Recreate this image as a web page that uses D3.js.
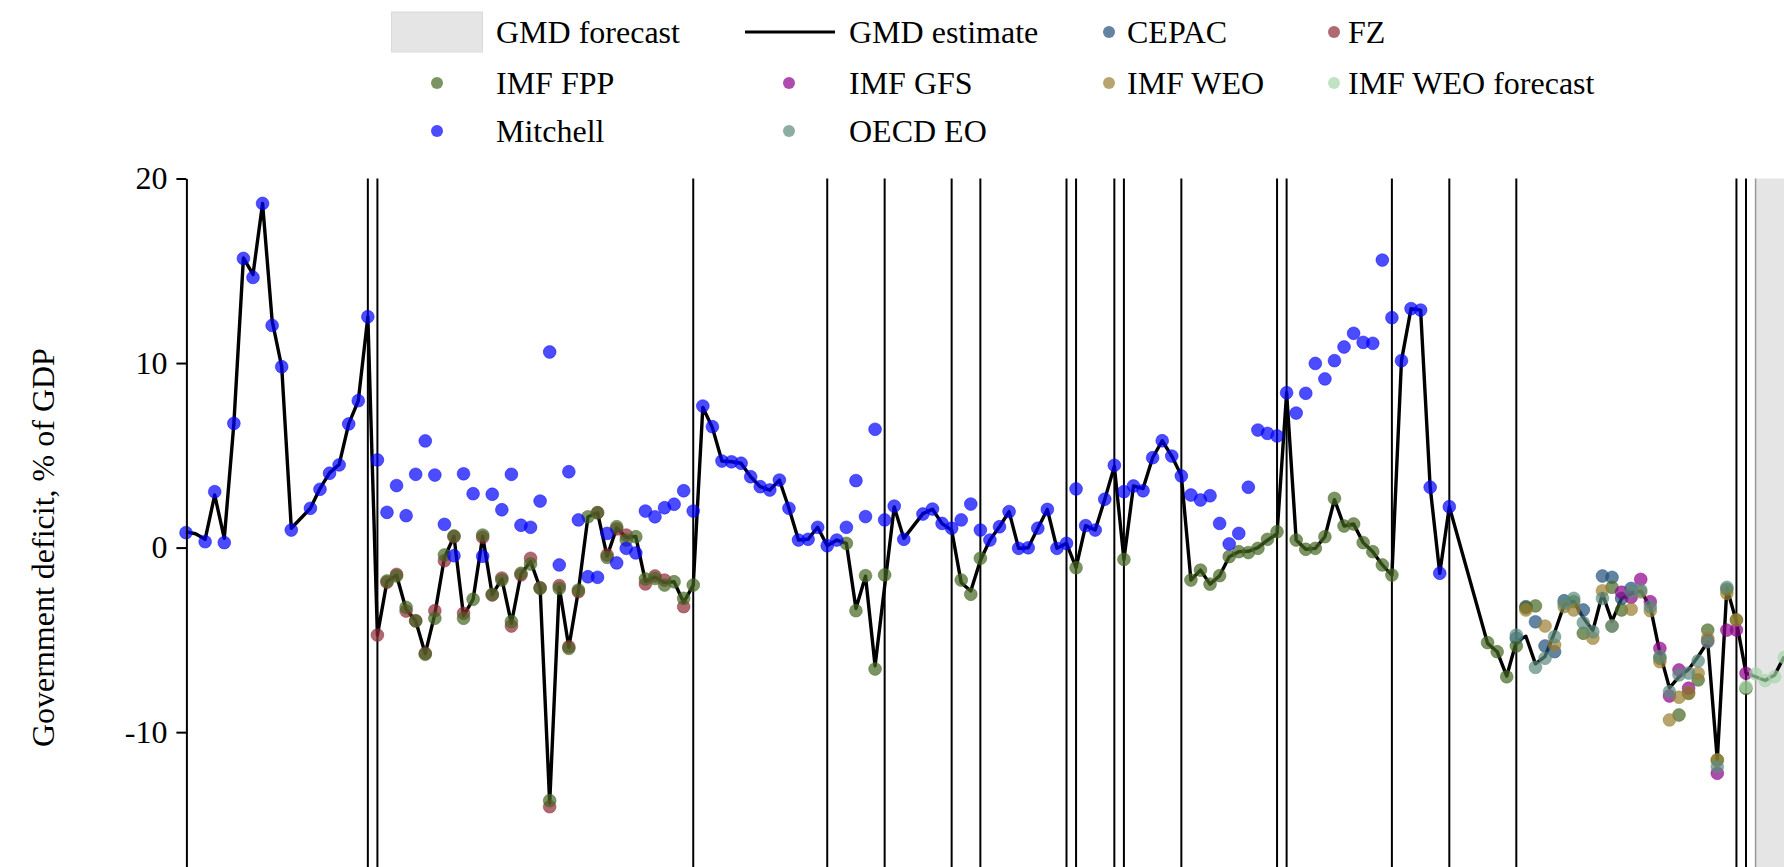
<!DOCTYPE html>
<html><head><meta charset="utf-8">
<script src="https://cdn.jsdelivr.net/npm/d3@7"></script>
<style>
html,body{margin:0;padding:0;background:#fff;overflow:hidden;}
svg{display:block;font-family:"Liberation Serif","Times New Roman",serif;}
</style></head><body>
<svg id="chart" width="1784" height="867"></svg>
<script>
// ---------- DATA ----------
const yTicks = [20, 10, 0, -10];
const yAxisTitle = "Government deficit, % of GDP";
const forecastStartYear = 2024;
const crisisYears = [1879,1880,1913,1927,1933,1940,1943,1952,1953,1957,1958,1964,1974,1975,1986,1992,1999,2022,2023];

const gmdEstimate = [
[1860,0.85],[1861,0.75],[1862,0.45],[1863,2.85],[1864,0.5],[1865,6.7],[1866,15.7],[1867,14.8],[1868,18.65],[1869,12.3],[1870,9.8],[1871,1.05],[1873,2.13],[1874,3.2],[1875,4.05],[1876,4.5],[1877,6.7],[1878,7.95],[1879,12.5],[1880,-4.74],
[1881,-1.83],[1882,-1.5],[1883,-3.35],[1884,-3.97],[1885,-5.75],[1886,-3.6],[1887,-0.55],[1888,0.61],[1889,-3.7],[1890,-2.8],[1891,0.62],[1892,-2.55],[1893,-1.7],[1894,-4.1],[1895,-1.43],[1896,-0.75],[1897,-2.19],[1898,-13.85],[1899,-2.13],[1900,-5.4],[1901,-2.33],[1902,1.67],[1903,1.89],[1904,-0.47],[1905,1.07],[1906,0.55],[1907,0.6],[1908,-1.83],[1909,-1.6],[1910,-1.9],[1911,-1.85],[1912,-2.97],[1913,-2.03],
[1914,7.6],[1915,6.5],[1916,4.69],[1917,4.65],[1918,4.57],[1919,3.84],[1920,3.3],[1921,3.12],[1922,3.66],[1923,2.13],[1924,0.41],[1925,0.45],[1926,1.1],[1927,0.1],[1928,0.41],[1929,0.23],[1930,-3.3],[1931,-1.55],[1932,-6.4],[1934,2.2],[1935,0.5],[1937,1.84],[1938,2.08],[1939,1.3],[1940,0.95],[1941,-1.9],[1942,-2.35],[1943,-0.7],[1944,0.41],[1945,1.13],[1946,1.95],[1947,-0.04],[1948,-0.01],[1949,1.05],[1950,2.07],[1951,-0.04],[1952,0.23],[1953,-1.09],[1954,1.19],[1955,0.95],[1956,2.62],
[1957,4.4],[1958,-0.64],[1959,3.34],[1960,3.2],[1961,4.87],[1962,5.79],[1963,4.96],[1964,3.9],[1965,-1.76],[1966,-1.22],[1967,-1.98],[1968,-1.52],[1969,-0.49],[1970,-0.22],[1971,-0.2],[1972,0.0],[1973,0.4],[1974,0.75],[1975,8.39],[1976,0.41],[1977,-0.09],[1978,-0.04],[1979,0.59],[1980,2.6],[1981,1.17],[1982,1.28],[1983,0.27],[1984,-0.22],[1985,-0.94],[1986,-1.49],[1987,10.13],[1988,12.95],[1989,12.87],[1990,3.27],[1991,-1.39],[1992,2.22],
[1996,-5.19],[1997,-5.64],[1998,-6.96],[1999,-5.1],[2000,-4.8],[2001,-6.3],[2002,-5.9],[2003,-4.6],[2004,-3.1],[2005,-2.9],[2006,-3.8],[2007,-4.5],[2008,-2.5],[2009,-4.0],[2010,-2.75],[2011,-2.5],[2012,-2.35],[2013,-3.2],[2014,-5.7],[2015,-7.6],[2016,-7.0],[2017,-6.6],[2018,-5.9],[2019,-5.1],[2020,-11.5],[2021,-2.2],[2022,-4.0],[2023,-6.8],[2024,-7.0],[2025,-7.2],[2026,-6.9],[2027,-5.9]
];

const cepac = [[1999,-4.91],[2000,-3.2],[2001,-4.02],[2002,-5.33],[2003,-5.64],[2004,-2.88],[2006,-3.38],[2008,-1.54],[2009,-1.61],[2010,-2.75],[2011,-2.21]];

const fz = [[1880,-4.74],[1881,-1.88],[1882,-1.45],[1883,-3.44],[1884,-3.98],[1885,-5.73],[1886,-3.42],[1887,-0.71],[1888,0.59],[1889,-3.56],[1891,0.56],[1892,-2.57],[1893,-1.65],[1894,-4.25],[1895,-1.48],[1896,-0.58],[1897,-2.17],[1898,-14.04],[1899,-2.06],[1900,-5.37],[1901,-2.39],[1903,1.89],[1904,-0.4],[1905,1.01],[1906,0.68],[1908,-1.97],[1909,-1.54],[1910,-1.76],[1912,-3.2]];

const imfFpp = [[1881,-1.81],[1882,-1.54],[1883,-3.24],[1884,-3.96],[1885,-5.78],[1886,-3.83],[1887,-0.4],[1888,0.63],[1889,-3.83],[1890,-2.8],[1891,0.68],[1892,-2.53],[1893,-1.76],[1894,-4.01],[1895,-1.39],[1896,-0.89],[1897,-2.21],[1898,-13.71],[1899,-2.21],[1900,-5.46],[1901,-2.3],[1902,1.67],[1903,1.89],[1904,-0.53],[1905,1.13],[1906,0.41],[1907,0.59],[1908,-1.7],[1909,-1.67],[1910,-2.03],[1911,-1.85],[1912,-2.75],[1913,-2.03],
[1929,0.23],[1930,-3.42],[1931,-1.52],[1932,-6.58],[1933,-1.48],[1941,-1.76],[1942,-2.53],[1943,-0.58],[1953,-1.09],[1958,-0.64],
[1965,-1.76],[1966,-1.22],[1967,-1.98],[1968,-1.52],[1969,-0.49],[1970,-0.22],[1971,-0.27],[1972,-0.04],[1973,0.45],[1974,0.86],[1976,0.41],[1977,-0.09],[1978,-0.04],[1979,0.59],[1980,2.67],[1981,1.17],[1982,1.28],[1983,0.27],[1984,-0.22],[1985,-0.94],[1986,-1.49],
[1996,-5.15],[1997,-5.64],[1998,-7.0],[1999,-5.33],[2000,-3.26],[2001,-3.16],[2005,-2.93],[2006,-4.64],[2009,-2.15],[2010,-3.38],[2014,-6.0],[2016,-9.07],[2017,-7.9],[2018,-7.17],[2019,-4.47],[2020,-11.51],[2021,-2.26],[2022,-3.92],[2023,-7.63]];

const imfGfs = [[2010,-2.42],[2011,-2.69],[2012,-1.72],[2013,-2.93],[2014,-5.46],[2015,-8.04],[2016,-6.63],[2017,-7.62],[2019,-5.05],[2020,-12.23],[2021,-4.47],[2022,-4.47],[2023,-6.81]];

const imfWeo = [[2000,-3.38],[2002,-4.25],[2003,-5.28],[2004,-3.2],[2005,-3.38],[2007,-4.91],[2008,-2.34],[2009,-4.25],[2011,-3.34],[2012,-2.4],[2013,-3.42],[2014,-6.18],[2015,-9.34],[2016,-8.11],[2017,-7.85],[2018,-6.81],[2019,-4.91],[2020,-11.51],[2021,-2.48],[2022,-3.92]];

const imfWeoForecast = [[2023,-7.54],[2024,-6.85],[2025,-7.21],[2026,-7.0],[2027,-5.95]];

const mitchell = [
[1860,0.81],[1862,0.32],[1863,3.03],[1864,0.27],[1865,6.73],[1866,15.67],[1867,14.64],[1868,18.65],[1869,12.04],[1870,9.8],[1871,0.95],[1873,2.13],[1874,3.16],[1875,4.03],[1876,4.48],[1877,6.7],[1878,7.96],[1879,12.51],[1880,4.75],
[1881,1.91],[1882,3.36],[1883,1.73],[1884,3.97],[1885,5.78],[1886,3.93],[1887,1.26],[1888,-0.44],[1889,4.0],[1890,2.92],[1891,-0.47],[1892,2.89],[1893,2.05],[1894,3.97],[1895,1.21],[1896,1.1],[1897,2.52],[1898,10.6],[1899,-0.94],[1900,4.11],[1901,1.5],[1902,-1.58],[1903,-1.61],[1904,0.77],[1905,-0.83],[1906,-0.04],[1907,-0.29],[1908,1.98],[1909,1.67],[1910,2.16],[1911,2.35],[1912,3.08],[1913,1.98],
[1914,7.67],[1915,6.55],[1916,4.69],[1917,4.65],[1918,4.57],[1919,3.84],[1920,3.3],[1921,3.12],[1922,3.66],[1923,2.13],[1924,0.41],[1925,0.45],[1926,1.1],[1927,0.1],[1928,0.41],[1929,1.1],[1930,3.63],[1931,1.68],[1932,6.41],[1933,1.5],[1934,2.25],[1935,0.45],[1937,1.82],[1938,2.09],[1939,1.31],[1940,1.05],[1941,1.5],[1942,2.36],[1943,0.95],[1944,0.41],[1945,1.13],[1946,1.95],[1947,-0.04],[1948,-0.01],[1949,1.05],[1950,2.07],[1951,-0.04],[1952,0.23],[1953,3.18],[1954,1.19],[1955,0.95],[1956,2.62],
[1957,4.46],[1958,3.03],[1959,3.34],[1960,3.08],[1961,4.87],[1962,5.79],[1963,4.96],[1964,3.88],[1965,2.85],[1966,2.58],[1967,2.81],[1968,1.31],[1969,0.2],[1970,0.77],[1971,3.27],[1972,6.37],[1973,6.19],[1974,6.05],[1975,8.39],[1976,7.29],[1977,8.36],[1978,9.98],[1979,9.14],[1980,10.13],[1981,10.87],[1982,11.61],[1983,11.12],[1984,11.07],[1985,15.58],[1986,12.46],[1987,10.13],[1988,12.95],[1989,12.87],[1990,3.27],[1991,-1.39],[1992,2.22]];

const oecdEo = [[1999,-4.74],[2001,-6.49],[2002,-6.0],[2003,-4.83],[2004,-3.02],[2005,-2.75],[2006,-4.07],[2007,-4.56],[2008,-2.75],[2009,-4.25],[2011,-2.39],[2012,-2.3],[2013,-3.2],[2014,-5.9],[2015,-7.81],[2016,-6.9],[2017,-6.8],[2018,-6.14],[2019,-5.1],[2020,-11.87],[2021,-2.15]];

// series drawn in legend order
const sourceNames = ["CEPAC","FZ","IMF FPP","IMF GFS","IMF WEO","IMF WEO forecast","Mitchell","OECD EO"];
const sourceData = [cepac, fz, imfFpp, imfGfs, imfWeo, imfWeoForecast, mitchell, oecdEo];
const sourceColors = ["#1f4e79","#8b2a35","#446622","#8b008b","#9a7f30","#a8d5ab","#0000ff","#5b8a7e"];

// ---------- CHART ----------
const svg = d3.select("#chart");
const x = d3.scaleLinear().domain([1860, 2030]).range([186, 1813]);
const y = d3.scaleLinear().domain([-20, 20]).range([916.7, 178.5]);
const FONT = 32;
const R = 6.4;

// forecast shading
svg.append("rect")
  .attr("x", x(forecastStartYear)).attr("y", y(20))
  .attr("width", x(2030) - x(forecastStartYear)).attr("height", y(-20) - y(20))
  .attr("fill", "#e5e5e5");
svg.append("line")
  .attr("x1", x(forecastStartYear)).attr("x2", x(forecastStartYear))
  .attr("y1", y(20)).attr("y2", y(-20))
  .attr("stroke", "#9a9a9a").attr("stroke-width", 1.5);

// crisis lines
svg.append("g").selectAll("line").data(crisisYears).join("line")
  .attr("x1", d => x(d)).attr("x2", d => x(d))
  .attr("y1", y(20)).attr("y2", y(-20))
  .attr("stroke", "#000").attr("stroke-width", 2);

// GMD estimate line
svg.append("path").datum(gmdEstimate)
  .attr("fill", "none").attr("stroke", "#000").attr("stroke-width", 3.4)
  .attr("stroke-linejoin", "round")
  .attr("d", d3.line().x(d => x(d[0])).y(d => y(d[1])));

// source dots
sourceData.forEach((series, i) => {
  svg.append("g").selectAll("circle").data(series).join("circle")
    .attr("cx", d => x(d[0])).attr("cy", d => y(d[1])).attr("r", R)
    .attr("fill", sourceColors[i]).attr("fill-opacity", 0.7)
    .attr("stroke", sourceColors[i]).attr("stroke-opacity", 0.45).attr("stroke-width", 1);
});

// y axis
const yAxis = d3.axisLeft(y).tickValues(yTicks).tickSize(10).tickSizeOuter(0)
  .tickPadding(9).tickFormat(d => String(d));
const gy = svg.append("g").attr("transform", `translate(${x(1860) + 0.4},0)`).call(yAxis);
gy.select(".domain").attr("stroke-width", 2);
gy.selectAll(".tick line").attr("stroke-width", 2);
gy.selectAll(".tick text").attr("font-size", FONT).attr("font-family", '"Liberation Serif","Times New Roman",serif').attr("fill", "#000");

svg.append("text")
  .attr("transform", `translate(43,${(y(20) + y(-20)) / 2}) rotate(-90)`)
  .attr("text-anchor", "middle").attr("dominant-baseline", "central")
  .attr("font-size", FONT).attr("fill", "#000").text(yAxisTitle);

// legend
const colSym = [437, 789, 1109, 1334];
const colText = [496, 849, 1127, 1348];
const rowMid = [32, 83, 131];
const leg = svg.append("g");
const legendEntries = [{name: "GMD forecast", kind: "rect"}, {name: "GMD estimate", kind: "line"}]
  .concat(sourceNames.map((n, i) => ({name: n, kind: "dot", color: sourceColors[i]})));
legendEntries.forEach((e, k) => {
  const c = k % 4, r = Math.floor(k / 4);
  const cx = colSym[c], cy = rowMid[r];
  if (e.kind === "rect") {
    leg.append("rect").attr("x", cx - 45.5).attr("y", cy - 20).attr("width", 91).attr("height", 40)
      .attr("fill", "#e5e5e5").attr("stroke", "#dadada").attr("stroke-width", 1);
  } else if (e.kind === "line") {
    leg.append("line").attr("x1", cx - 44).attr("x2", cx + 46).attr("y1", cy).attr("y2", cy)
      .attr("stroke", "#000").attr("stroke-width", 3);
  } else {
    leg.append("circle").attr("cx", cx).attr("cy", cy).attr("r", 6)
      .attr("fill", e.color).attr("fill-opacity", 0.7);
  }
  leg.append("text").attr("x", colText[c]).attr("y", cy + 10.5)
    .attr("font-size", FONT).attr("fill", "#000").text(e.name);
});
</script>
</body></html>
